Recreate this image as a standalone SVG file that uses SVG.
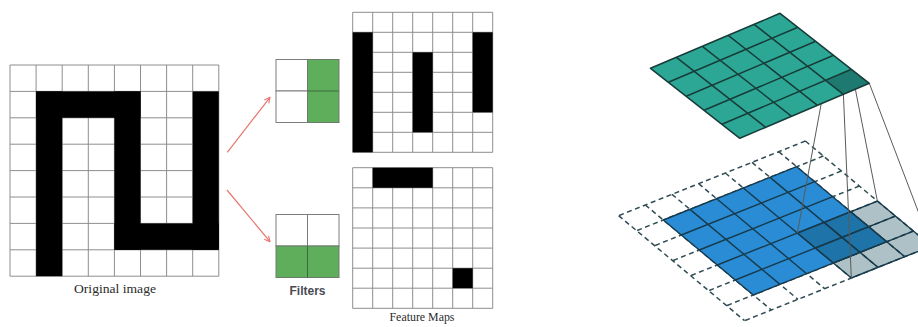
<svg xmlns="http://www.w3.org/2000/svg" width="918" height="327" viewBox="0 0 918 327">
<style>
.grid{fill:none;stroke:#8e8e8e;stroke-width:1}
.blk{fill:#000}
.fcell{fill:#fff;stroke:#7d7d7d;stroke-width:1}
.green{fill:#5fae5c}
.ginner{stroke:#3d6a3b;stroke-width:1}
.lbl{font-family:"Liberation Serif","Times New Roman",serif;font-size:13.5px;fill:#2b2b2b;text-anchor:middle}
.lblb{font-family:"Liberation Sans",Arial,sans-serif;font-weight:bold;font-size:12px;fill:#4a4a55;text-anchor:middle}
.arrow{stroke:#e8776f;stroke-width:1.2;fill:none;marker-end:url(#ah)}
.teal{fill:#2ca796}
.tealdk{fill:#1e7a70}
.tline{stroke:#173c38;stroke-width:1.5;fill:none;stroke-linecap:round}
.dash{stroke:#2f4c52;stroke-width:1.5;fill:none;stroke-dasharray:5 3.5}
.blue{fill:#298cd4}
.bline{stroke:#173a4c;stroke-width:1.4;fill:none}
.kern{fill:#094253;fill-opacity:0.33}
.proj{stroke:#5a5a5a;stroke-width:1;fill:none}
</style>
<defs>
<marker id="ah" viewBox="0 0 10 10" refX="9" refY="5" markerWidth="7" markerHeight="7" orient="auto" markerUnits="userSpaceOnUse">
<path d="M1,1 L9,5 L1,9" fill="none" stroke="#e8776f" stroke-width="1.6"/>
</marker>
</defs>
<rect width="918" height="327" fill="#fff"/>

<g id="original-image">
<rect x="10" y="65" width="208.8" height="211.2" fill="#fff"/>
<path class="grid" d="M10,65V276.2M36.1,65V276.2M62.2,65V276.2M88.3,65V276.2M114.4,65V276.2M140.5,65V276.2M166.6,65V276.2M192.7,65V276.2M218.8,65V276.2M10,65H218.8M10,91.4H218.8M10,117.8H218.8M10,144.2H218.8M10,170.6H218.8M10,197H218.8M10,223.4H218.8M10,249.8H218.8M10,276.2H218.8"/>
<rect class="blk" x="36.1" y="91.4" width="104.4" height="26.4"/>
<rect class="blk" x="36.1" y="91.4" width="26.1" height="184.8"/>
<rect class="blk" x="114.4" y="91.4" width="26.1" height="158.4"/>
<rect class="blk" x="192.7" y="91.4" width="26.1" height="158.4"/>
<rect class="blk" x="114.4" y="223.4" width="104.4" height="26.4"/>
<text class="lbl" x="115" y="293" textLength="82" lengthAdjust="spacingAndGlyphs">Original image</text>
</g>

<g id="filter-1">
<rect class="fcell" x="276" y="59.5" width="31.5" height="31.5"/>
<rect class="fcell" x="276" y="91" width="31.5" height="31.5"/>
<rect class="green" x="307.5" y="59.5" width="31.5" height="63"/>
<rect x="307.5" y="59.5" width="31.5" height="63" fill="none" stroke="#6f7a6e" stroke-width="1"/>
<line class="ginner" x1="307.5" y1="91" x2="339" y2="91"/>
</g>
<g id="filter-2">
<rect class="fcell" x="276" y="214.5" width="31.5" height="31.5"/>
<rect class="fcell" x="307.5" y="214.5" width="31.5" height="31.5"/>
<rect class="green" x="276" y="246" width="63" height="31.5"/>
<rect x="276" y="246" width="63" height="31.5" fill="none" stroke="#6f7a6e" stroke-width="1"/>
<line class="ginner" x1="307.5" y1="246" x2="307.5" y2="277.5"/>
<text class="lblb" x="307.5" y="295">Filters</text>
</g>

<g id="feature-map-1">
<rect x="352.7" y="12.3" width="140" height="140" fill="#fff"/>
<path class="grid" d="M352.7,12.3V152.3M372.7,12.3V152.3M392.7,12.3V152.3M412.7,12.3V152.3M432.7,12.3V152.3M452.7,12.3V152.3M472.7,12.3V152.3M492.7,12.3V152.3M352.7,12.3H492.7M352.7,32.3H492.7M352.7,52.3H492.7M352.7,72.3H492.7M352.7,92.3H492.7M352.7,112.3H492.7M352.7,132.3H492.7M352.7,152.3H492.7"/>
<rect class="blk" x="352.7" y="32.3" width="20" height="120"/>
<rect class="blk" x="412.7" y="52.3" width="20" height="80"/>
<rect class="blk" x="472.7" y="32.3" width="20" height="80"/>
</g>
<g id="feature-map-2">
<rect x="352.7" y="167.7" width="140" height="140.6" fill="#fff"/>
<path class="grid" d="M352.7,167.7V308.3M372.7,167.7V308.3M392.7,167.7V308.3M412.7,167.7V308.3M432.7,167.7V308.3M452.7,167.7V308.3M472.7,167.7V308.3M492.7,167.7V308.3M352.7,167.7H492.7M352.7,187.8H492.7M352.7,207.9H492.7M352.7,228H492.7M352.7,248.1H492.7M352.7,268.2H492.7M352.7,288.2H492.7M352.7,308.3H492.7"/>
<rect class="blk" x="372.7" y="167.7" width="60" height="20.1"/>
<rect class="blk" x="452.7" y="268.2" width="20" height="20"/>
<text class="lbl" x="422" y="321" textLength="65" lengthAdjust="spacingAndGlyphs">Feature Maps</text>
</g>

<g id="connectors">
<line class="arrow" x1="227.3" y1="152.3" x2="270" y2="97.3"/>
<line class="arrow" x1="227" y1="190" x2="270" y2="241.7"/>
</g>

<g id="input-plane">
<path class="dash" d="M805.38,141.04L931.38,246.04M778.70,151.70L904.70,256.70M752.02,162.36L878.02,267.36M725.34,173.02L851.34,278.02M698.66,183.68L824.66,288.68M671.98,194.34L797.98,299.34M645.30,205.00L771.30,310.00M618.62,215.66L744.62,320.66M805.38,141.04L618.62,215.66M823.38,156.04L636.62,230.66M841.38,171.04L654.62,245.66M859.38,186.04L672.62,260.66M877.38,201.04L690.62,275.66M895.38,216.04L708.62,290.66M913.38,231.04L726.62,305.66M931.38,246.04L744.62,320.66"/>
<polygon class="blue" points="796.70,166.70 886.70,241.70 753.30,295.00 663.30,220.00"/>
<path class="bline" d="M796.70,166.70L886.70,241.70M770.02,177.36L860.02,252.36M743.34,188.02L833.34,263.02M716.66,198.68L806.66,273.68M689.98,209.34L779.98,284.34M663.30,220.00L753.30,295.00M796.70,166.70L663.30,220.00M814.70,181.70L681.30,235.00M832.70,196.70L699.30,250.00M850.70,211.70L717.30,265.00M868.70,226.70L735.30,280.00M886.70,241.70L753.30,295.00"/>
</g>

<g id="kernel">
<polygon class="kern" points="877.38,201.04 931.38,246.04 851.34,278.02 797.34,233.02"/>
<path class="bline" d="M877.38,201.04L931.38,246.04M850.70,211.70L904.70,256.70M824.02,222.36L878.02,267.36M797.34,233.02L851.34,278.02M877.38,201.04L797.34,233.02M895.38,216.04L815.34,248.02M913.38,231.04L833.34,263.02M931.38,246.04L851.34,278.02"/>
</g>

<g id="projection-lines">
<line class="proj" x1="825.54" y1="80.3" x2="797.34" y2="233.02"/>
<line class="proj" x1="843.4" y1="94.3" x2="851.34" y2="278.02"/>
<line class="proj" x1="851.44" y1="69.3" x2="877.38" y2="201.04"/>
<line class="proj" x1="869.3" y1="83.3" x2="931.38" y2="246.04"/>
</g>

<g id="output-plane">
<polygon class="teal" points="780,13.3 869.3,83.3 739.8,138.3 650.5,68.3"/>
<polygon class="tealdk" points="851.44,69.3 869.3,83.3 843.4,94.3 825.54,80.3"/>
<path class="tline" d="M780,13.3L869.3,83.3M754.1,24.3L843.4,94.3M728.2,35.3L817.5,105.3M702.3,46.3L791.6,116.3M676.4,57.3L765.7,127.3M650.5,68.3L739.8,138.3M780,13.3L650.5,68.3M797.86,27.3L668.36,82.3M815.72,41.3L686.22,96.3M833.58,55.3L704.08,110.3M851.44,69.3L721.94,124.3M869.3,83.3L739.8,138.3"/>
</g>
</svg>
